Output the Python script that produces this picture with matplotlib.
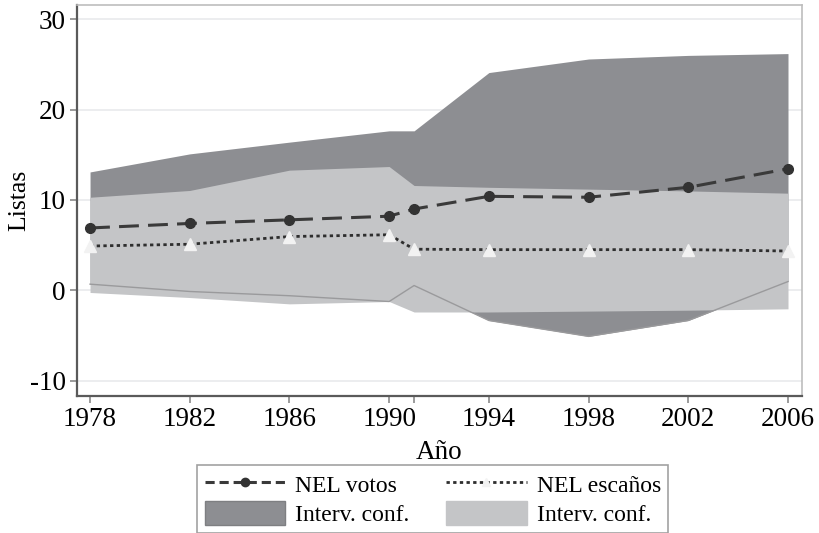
import matplotlib
matplotlib.use("Agg")
import matplotlib.pyplot as plt
from matplotlib.patches import Patch
from matplotlib.lines import Line2D

years = [1978, 1982, 1986, 1990, 1991, 1994, 1998, 2002, 2006]
nel_votos = [6.9, 7.4, 7.8, 8.2, 9.0, 10.4, 10.3, 11.4, 13.45]
nel_escanos = [4.9, 5.1, 5.95, 6.15, 4.55, 4.5, 4.5, 4.5, 4.35]
ci_votos_hi = [13.1, 15.1, 16.4, 17.65, 17.65, 24.1, 25.6, 26.0, 26.2]
ci_votos_lo = [0.68, -0.13, -0.6, -1.24, 0.53, -3.34, -5.1, -3.34, 0.97]
ci_esc_hi = [10.3, 11.05, 13.3, 13.7, 11.6, 11.4, 11.2, 11.0, 10.75]
ci_esc_lo = [-0.24, -0.8, -1.5, -1.24, -2.4, -2.4, -2.3, -2.2, -2.05]
xtick_labels = [1978, 1982, 1986, 1990, 1994, 1998, 2002, 2006]
yticks = [-10, 0, 10, 20, 30]

plt.rcParams['font.family'] = ['Liberation Serif', 'DejaVu Serif']

DARK = '#8d8e92'
LIGHT = '#c4c5c7'

fig = plt.figure(figsize=(8.2, 5.33), dpi=100)
ax = fig.add_axes([0.094, 0.257, 0.884, 0.734])

ax.fill_between(years, ci_votos_lo, ci_votos_hi, color=DARK, lw=0, zorder=2)
ax.fill_between(years, ci_esc_lo, ci_esc_hi, color=LIGHT, lw=0, zorder=3)
ax.plot(years, ci_votos_lo, color='#9a9a9c', lw=1.0, zorder=4)

ax.plot(years, nel_votos, color='#3a3a3a', lw=2.2, ls=(0, (6.5, 3)),
        marker='o', ms=7, mfc='#333333', mec='#333333', zorder=6)
ax.plot(years, nel_escanos, color='#2e2e2e', lw=2.0, ls=(0, (1.2, 1.2)),
        zorder=5)
ax.plot(years, nel_escanos, ls='none', marker='^', ms=8,
        mfc='#f2f2f2', mec='#f2f2f2', zorder=6)

ax.set_xlim(1977.48, 2006.56)
ax.set_ylim(-11.7, 31.6)
ax.set_xticks(years)
ax.set_xticklabels([str(y) if y in xtick_labels else '' for y in years])
ax.set_yticks(yticks)
ax.set_yticklabels([str(v) for v in yticks])
ax.grid(axis='y', color='#e9eaec', lw=1.2, zorder=0)
ax.set_axisbelow(True)

for s in ['left', 'bottom']:
    ax.spines[s].set_color('#5a5a5a')
    ax.spines[s].set_linewidth(1.6)
for s in ['top', 'right']:
    ax.spines[s].set_color('#bdbdbd')
    ax.spines[s].set_linewidth(1.2)

ax.tick_params(axis='both', labelsize=19.5, color='#8a8a8a', length=5, width=1.2)
ax.tick_params(axis='x', pad=3)
ax.tick_params(axis='y', pad=3)
ax.set_xlabel('Año', fontsize=19.5, labelpad=6)
ax.set_ylabel('Listas', fontsize=18.5, labelpad=0)

handles = [
    Line2D([], [], color='#3a3a3a', lw=2.2, ls=(0, (3, 1.6)), marker='o', ms=6,
           mfc='#333333', mec='#333333'),
    Line2D([], [], color='#2e2e2e', lw=2.0, ls=(0, (1.2, 1.2)), marker='^', ms=6,
           mfc='#f2f2f2', mec='#f2f2f2'),
    Patch(facecolor=DARK, edgecolor='#7e7f82'),
    Patch(facecolor=LIGHT, edgecolor=LIGHT),
]
labels = ['NEL votos', 'NEL escaños', 'Interv. conf.', 'Interv. conf.']
order = [0, 2, 1, 3]
leg = fig.legend([handles[i] for i in order], [labels[i] for i in order],
                 ncol=2, loc='upper center', bbox_to_anchor=(0.528, 0.150),
                 fontsize=17, frameon=True, fancybox=False, handlelength=3.4,
                 handleheight=1.2, columnspacing=1.55, labelspacing=0.15,
                 borderpad=0.3, handletextpad=0.45, numpoints=1)
leg.get_frame().set_edgecolor('#8a8a8a')
leg.get_frame().set_linewidth(1.2)

fig.savefig('out.png', dpi=100)
